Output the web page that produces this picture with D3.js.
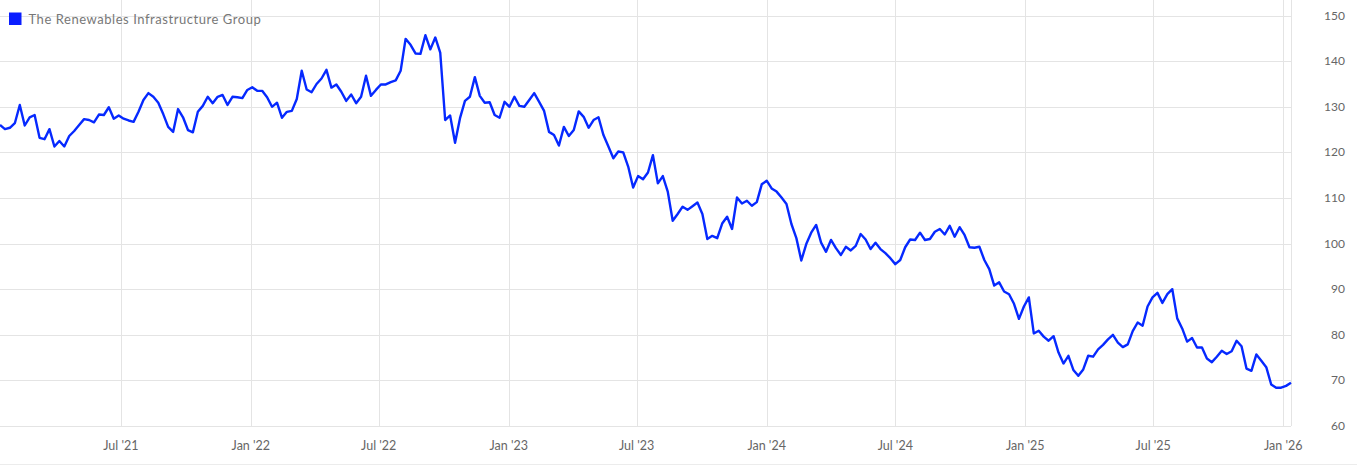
<!DOCTYPE html>
<html lang="en">
<head>
  <meta charset="UTF-8">
  <title>The Renewables Infrastructure Group</title>
  <script src="https://d3js.org/d3.v7.min.js"></script>
  <style>
    body { margin: 0; background: #fff; font-family: "Lato", "Liberation Sans", sans-serif; }
    svg { display: block; }
  </style>
</head>
<body>
  <svg width="1357" height="471"></svg>

  <script>
    // weekly closes, first week starting 11 Jan 2021
    const seriesName = "The Renewables Infrastructure Group";
    const firstWeek = "2021-01-11";
    const prices = [
      126.0, 125.1, 125.4, 126.4, 130.4, 125.9, 127.7, 128.2, 123.2, 122.9,
      125.1, 121.3, 122.5, 121.3, 123.6, 124.7, 126.0, 127.3, 127.1, 126.6,
      128.3, 128.2, 129.9, 127.4, 128.1, 127.4, 127.0, 126.7, 128.9, 131.5,
      133.0, 132.2, 130.9, 128.4, 125.6, 124.5, 129.5, 127.7, 124.9, 124.4,
      128.9, 130.2, 132.2, 130.8, 132.2, 132.6, 130.4, 132.2, 132.1, 131.9,
      133.7, 134.3, 133.5, 133.5, 132.1, 130.0, 130.9, 127.6, 128.9, 129.1,
      131.7, 137.9, 133.8, 133.2, 135.0, 136.2, 138.1, 134.2, 134.9, 133.3,
      131.3, 132.7, 130.8, 132.2, 136.8, 132.4, 133.7, 134.9, 134.9, 135.4,
      135.8, 137.9, 144.9, 143.6, 141.7, 141.6, 145.7, 142.6, 145.2, 141.9,
      127.1, 128.1, 122.1, 127.5, 131.3, 132.2, 136.5, 132.4, 130.9, 131.0,
      128.2, 127.6, 131.1, 130.0, 132.2, 130.2, 130.0, 131.5, 133.0, 131.1,
      129.1, 124.5, 123.8, 121.5, 125.6, 123.6, 124.9, 129.0, 127.8, 125.4,
      127.1, 127.7, 123.8, 121.3, 118.7, 120.2, 120.0, 116.9, 112.3, 114.8,
      114.1, 115.6, 119.4, 113.2, 114.8, 111.4, 105.0, 106.5, 108.1, 107.4,
      108.2, 109.0, 106.5, 101.0, 101.7, 101.2, 104.4, 105.9, 103.2, 110.1,
      108.8, 109.4, 108.3, 109.1, 113.0, 113.8, 112.1, 111.4, 110.1, 108.7,
      104.3, 101.2, 96.3, 99.9, 102.4, 104.1, 100.2, 98.2, 100.8, 99.0,
      97.5, 99.3, 98.5, 99.5, 102.1, 100.9, 98.8, 100.2, 98.8, 97.9,
      96.8, 95.5, 96.4, 99.2, 100.9, 100.8, 102.4, 100.8, 101.0, 102.6,
      103.2, 102.0, 103.9, 101.5, 103.6, 101.9, 99.2, 99.1, 99.3, 96.4,
      94.4, 90.8, 91.5, 89.5, 88.9, 86.8, 83.5, 86.2, 88.2, 80.3,
      80.9, 79.6, 78.7, 79.7, 76.1, 73.7, 75.4, 72.3, 71.0, 72.4,
      75.4, 75.2, 76.8, 77.8, 79.0, 80.0, 78.3, 77.3, 77.9, 80.8,
      82.7, 82.0, 86.2, 88.2, 89.2, 87.0, 88.9, 90.0, 83.6, 81.4,
      78.5, 79.3, 77.2, 77.2, 74.8, 74.0, 75.2, 76.5, 75.8, 76.4,
      78.7, 77.5, 72.6, 72.1, 75.7, 74.3, 72.9, 69.1, 68.4, 68.4,
      68.8, 69.5
    ];
    const yTicks = [60, 70, 80, 90, 100, 110, 120, 130, 140, 150];

    const svg = d3.select("svg");
    const plotRight = 1291, plotBottom = 426;

    const start = d3.timeParse("%Y-%m-%d")(firstWeek);
    const data = prices.map((v, i) => ({ date: d3.timeWeek.offset(start, i), value: v }));

    const x = d3.scaleTime()
      .domain(d3.extent(data, d => d.date))
      .range([0, plotRight]);
    const y = d3.scaleLinear()
      .domain([60, 150])
      .range([plotBottom, 15.6]);

    const xTicks = x.ticks(d3.timeMonth.every(6));

    // grid
    svg.append("g").selectAll("line")
      .data(yTicks)
      .enter().append("line")
      .attr("x1", 0).attr("x2", plotRight)
      .attr("y1", d => Math.round(y(d)) + 0.5).attr("y2", d => Math.round(y(d)) + 0.5)
      .attr("stroke", "#e4e4e4");

    svg.append("g").selectAll("line")
      .data(xTicks)
      .enter().append("line")
      .attr("x1", d => Math.round(x(d)) + 0.5).attr("x2", d => Math.round(x(d)) + 0.5)
      .attr("y1", 0).attr("y2", plotBottom)
      .attr("stroke", "#e4e4e4");

    svg.append("line")
      .attr("x1", plotRight + 0.5).attr("x2", plotRight + 0.5)
      .attr("y1", 0).attr("y2", plotBottom)
      .attr("stroke", "#e4e4e4");

    svg.append("line")
      .attr("x1", 0).attr("x2", 1357)
      .attr("y1", 464.5).attr("y2", 464.5)
      .attr("stroke", "#ececec");

    // axis labels
    svg.append("g").selectAll("text")
      .data(yTicks)
      .enter().append("text")
      .attr("x", 1345)
      .attr("y", d => y(d) + 4)
      .attr("text-anchor", "end")
      .attr("font-size", "12px")
      .attr("fill", "#666")
      .text(d => d);

    svg.append("g").selectAll("text")
      .data(xTicks)
      .enter().append("text")
      .attr("x", d => x(d))
      .attr("y", 450)
      .attr("text-anchor", "middle")
      .attr("font-size", "12.5px")
      .attr("fill", "#666")
      .text(d => d3.timeFormat("%b '%y")(d));

    // price line
    svg.append("path")
      .datum(data)
      .attr("fill", "none")
      .attr("stroke", "#0629ff")
      .attr("stroke-width", 2.4)
      .attr("stroke-linejoin", "round")
      .attr("d", d3.line().x(d => x(d.date)).y(d => y(d.value)));

    // legend
    svg.append("rect")
      .attr("x", 9).attr("y", 12.5)
      .attr("width", 12.5).attr("height", 12.5)
      .attr("fill", "#0a1eff");
    svg.append("text")
      .attr("x", 28.5).attr("y", 24)
      .attr("font-size", "13px")
      .attr("letter-spacing", "0.55px")
      .attr("fill", "#777")
      .text(seriesName);
  </script>
</body>
</html>
